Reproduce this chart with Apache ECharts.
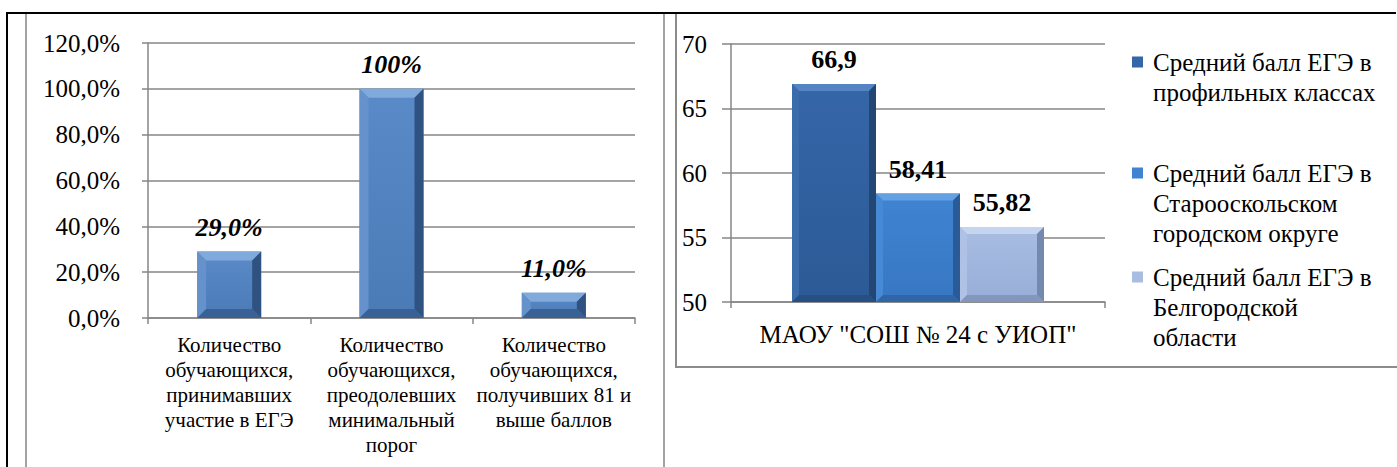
<!DOCTYPE html>
<html>
<head>
<meta charset="utf-8">
<script src="https://cdn.jsdelivr.net/npm/echarts@6/dist/echarts.min.js"></script>
<style>
  html, body { margin: 0; padding: 0; background: #fff; }
  .ln { position: absolute; }
  #chart { position: absolute; left: 0; top: 0; width: 1397px; height: 467px; }
  .pre { position: absolute; left: 30px; top: 440px; color: transparent; font-family: 'Liberation Serif', serif; font-size: 25px; }
</style>
</head>
<body>
<!-- подгрузка шрифта -->
<div class="pre">Количество МАОУ Средний балл 120,0% <b>66,9</b> <i>29,0%</i></div>
<!-- рамки -->
<div class="ln" style="left:6px;top:12px;width:1390px;height:2px;background:#000"></div>
<div class="ln" style="left:6px;top:12px;width:2px;height:455px;background:#000"></div>
<div class="ln" style="left:25px;top:14px;width:2px;height:453px;background:#a3a3a3"></div>
<div class="ln" style="left:663px;top:14px;width:2px;height:453px;background:#a3a3a3"></div>
<div class="ln" style="left:675px;top:14px;width:722px;height:352px;border-left:2px solid #8c8c8c;border-bottom:2px solid #8c8c8c"></div>
<div id="chart"></div>

<script>
var FONT = 'Liberation Serif, Times New Roman, serif'

// левая диаграмма
var leftCategories = [
  'Количество\nобучающихся,\nпринимавших\nучастие в ЕГЭ',
  'Количество\nобучающихся,\nпреодолевших\nминимальный\nпорог',
  'Количество\nобучающихся,\nполучивших 81 и\nвыше баллов'
]
var leftValues = [29.0, 100, 11.0]
var leftLabels = ['29,0%', '100%', '11,0%']
var leftTicks = [0, 20, 40, 60, 80, 100, 120]

// правая диаграмма
var rightCategory = ['МАОУ "СОШ № 24 с УИОП"']
var rightNames = [
  'Средний балл ЕГЭ в\nпрофильных классах',
  'Средний балл ЕГЭ в\nСтарооскольском\nгородском округе',
  'Средний балл ЕГЭ в\nБелгородской\nобласти'
]
var rightValues = [66.9, 58.41, 55.82]
var rightLabels = ['66,9', '58,41', '55,82']
var rightTicks = [50, 55, 60, 65, 70]

var leftPal = { face: ['#5a8bc8', '#4a7bb7'], top: '#80a9dc', left: '#6592cb', right: '#2f5280', bottom: '#3a6196' }
var rightPal = [
  { face: ['#3566a8', '#2c5a96'], top: '#5584c4', left: '#3a6bab', right: '#234672', bottom: '#284f84' },
  { face: ['#3f84d2', '#3877c2'], top: '#64a0e4', left: '#4689d4', right: '#2b5b96', bottom: '#3166a6' },
  { face: ['#a9bde2', '#98aed8'], top: '#c6d5ef', left: '#afc2e5', right: '#7588ad', bottom: '#8396bc' }
]

// столбик с фаской
function bevelBar(pal, barW, offset, bevel, base, labels, textStyle, dist) {
  return function (params, api) {
    var i = api.value(0)
    var p1 = api.coord([i, api.value(1)])
    var p0 = api.coord([i, base])
    var cx = p1[0] + offset
    var x0 = cx - barW / 2, x1 = cx + barW / 2
    var y0 = p1[1], y1 = p0[1]
    var b = Math.min(bevel, (y1 - y0) / 2.5)
    return {
      type: 'group',
      children: [
        { type: 'rect', shape: { x: x0, y: y0, width: barW, height: y1 - y0 },
          style: { fill: new echarts.graphic.LinearGradient(0, 0, 0, 1, [{ offset: 0, color: pal.face[0] }, { offset: 1, color: pal.face[1] }]) } },
        { type: 'polygon', shape: { points: [[x0, y0], [x1, y0], [x1 - b, y0 + b], [x0 + b, y0 + b]] }, style: { fill: pal.top } },
        { type: 'polygon', shape: { points: [[x0, y0], [x0 + b, y0 + b], [x0 + b, y1 - b], [x0, y1]] }, style: { fill: pal.left } },
        { type: 'polygon', shape: { points: [[x1, y0], [x1, y1], [x1 - b, y1 - b], [x1 - b, y0 + b]] }, style: { fill: pal.right } },
        { type: 'polygon', shape: { points: [[x0, y1], [x1, y1], [x1 - b, y1 - b], [x0 + b, y1 - b]] }, style: { fill: pal.bottom } },
        { type: 'text', style: Object.assign({ text: labels[params.dataIndex], x: cx, y: y0 - dist, align: 'center', verticalAlign: 'middle',
          fill: '#000', fontFamily: FONT, fontSize: 26 }, textStyle) }
      ]
    }
  }
}

// каждая строка подписи отдельным фрагментом rich-текста
function richLines(text, key) {
  return text.split('\n').map(function (l) { return '{' + key + '|' + l + '}' }).join('\n')
}

// значок легенды: квадрат у первой строки
function legendIcon(lines) {
  var h = 11 + (lines - 1) * 30
  return 'path://M0,0L11,0L11,11L0,11Z M16,' + h + 'L16.01,' + h
}

var axisGray = '#868686'

var option = {
  animation: false,
  textStyle: { fontFamily: FONT },
  grid: [
    { left: 148, top: 43, width: 487, height: 275 },
    { left: 731, top: 44, width: 374, height: 258 }
  ],
  xAxis: [{
    gridIndex: 0,
    type: 'category',
    data: leftCategories,
    axisLine: { lineStyle: { color: axisGray, width: 1.5 } },
    axisTick: { show: true, length: 6, lineStyle: { color: axisGray, width: 1.5 } },
    axisLabel: { interval: 0, margin: 14, color: '#000', fontFamily: FONT, fontSize: 21, lineHeight: 25,
      formatter: function (v) { return richLines(v, 'c') },
      rich: { c: { fontFamily: FONT, fontSize: 21, lineHeight: 25, color: '#000' } } }
  }, {
    gridIndex: 1,
    type: 'category',
    data: rightCategory,
    axisLine: { lineStyle: { color: axisGray, width: 1.5 } },
    axisTick: { show: true, length: 6, lineStyle: { color: axisGray, width: 1.5 } },
    axisLabel: { margin: 20, color: '#000', fontFamily: FONT, fontSize: 25,
      formatter: function (v) { return richLines(v, 'c') },
      rich: { c: { fontFamily: FONT, fontSize: 25, color: '#000' } } }
  }],
  yAxis: [{
    gridIndex: 0,
    type: 'value',
    min: leftTicks[0],
    max: leftTicks[leftTicks.length - 1],
    interval: leftTicks[1] - leftTicks[0],
    axisLine: { show: true, lineStyle: { color: axisGray, width: 1.5 } },
    axisTick: { show: true, length: 6, lineStyle: { color: axisGray, width: 1.5 } },
    splitLine: { lineStyle: { color: axisGray, width: 1.5 } },
    axisLabel: { margin: 28, color: '#000', fontFamily: FONT, fontSize: 25,
      formatter: function (v) { return v.toFixed(1).replace('.', ',') + '%' } }
  }, {
    gridIndex: 1,
    type: 'value',
    min: rightTicks[0],
    max: rightTicks[rightTicks.length - 1],
    interval: rightTicks[1] - rightTicks[0],
    axisLine: { show: true, lineStyle: { color: axisGray, width: 1.5 } },
    axisTick: { show: true, length: 9, lineStyle: { color: axisGray, width: 1.5 } },
    splitLine: { lineStyle: { color: axisGray, width: 1.5 } },
    axisLabel: { margin: 24, color: '#000', fontFamily: FONT, fontSize: 25 }
  }],
  legend: rightNames.map(function (name, k) {
    var lines = name.split('\n').length
    return {
      data: [{ name: name, icon: legendIcon(lines) }],
      left: 1132,
      top: [47, 158, 262][k],
      orient: 'vertical',
      padding: 0,
      itemWidth: 16,
      itemHeight: 11 + (lines - 1) * 30,
      selectedMode: false,
      formatter: function (n) { return richLines(n, 'l') },
      textStyle: { color: '#000', fontFamily: FONT, fontSize: 25, lineHeight: 30,
        rich: { l: { fontFamily: FONT, fontSize: 25, lineHeight: 30, color: '#000' } } }
    }
  }),
  series: [{
    type: 'custom',
    xAxisIndex: 0,
    yAxisIndex: 0,
    data: leftValues.map(function (v, i) { return [i, v] }),
    encode: { x: 0, y: 1 },
    renderItem: bevelBar(leftPal, 64, 0, 9, 0, leftLabels, { fontStyle: 'italic', fontWeight: 'bold' }, 24)
  }].concat(rightValues.map(function (v, k) {
    return {
      type: 'custom',
      name: rightNames[k],
      xAxisIndex: 1,
      yAxisIndex: 1,
      itemStyle: { color: rightPal[k].face[0] },
      data: [[0, v]],
      encode: { x: 0, y: 1 },
      renderItem: bevelBar(rightPal[k], 84, (k - 1) * 84, 7, rightTicks[0], [rightLabels[k]], { fontWeight: 'bold' }, 24)
    }
  }))
}

var chart = echarts.init(document.getElementById('chart'), null, { renderer: 'svg' })
chart.setOption(option)
// перерисовка чуть позже, когда шрифты точно на месте
setTimeout(function () { chart.setOption(option, true) }, 300)
</script>
</body>
</html>
